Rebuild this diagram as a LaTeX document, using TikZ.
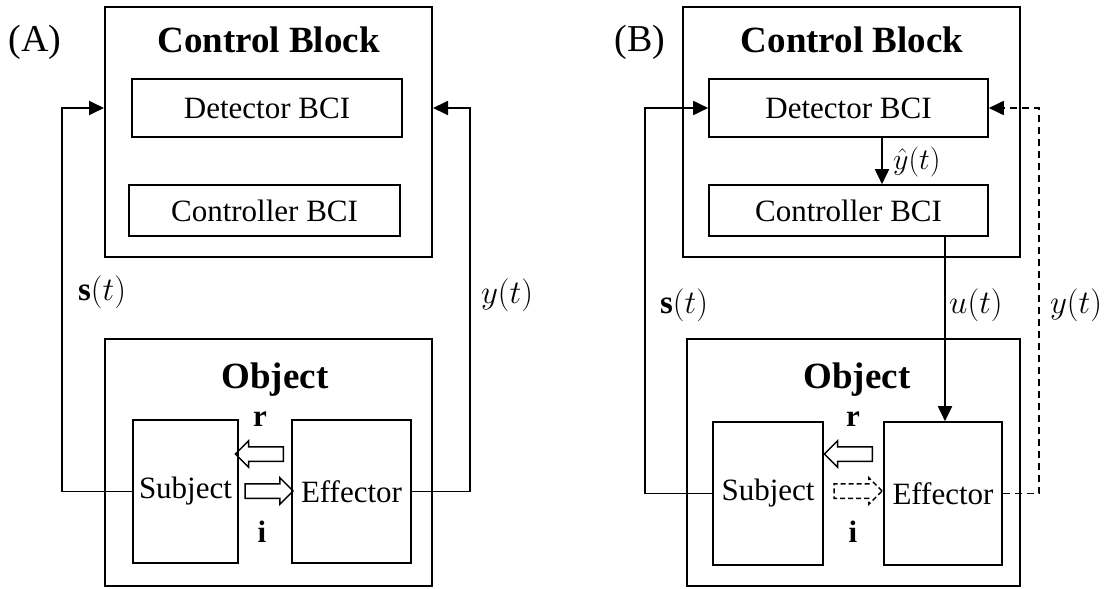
\documentclass[tikz,border=0pt]{standalone}
\usepackage{fix-cm}
\usepackage{fontspec}
\setmainfont{Liberation Serif}
\usetikzlibrary{arrows.meta,shapes.arrows,calc,positioning}

\tikzset{
  blk/.style={draw, line width=2pt, inner sep=0pt},
  sub/.style={draw, line width=1.6pt, inner sep=0pt, font=\fontsize{31}{34}\selectfont},
  ttl/.style={font=\fontsize{37}{40}\selectfont\bfseries},
  sig/.style={font=\fontsize{33}{36}\selectfont},
  pnl/.style={font=\fontsize{38}{40}\selectfont},
  lbl/.style={font=\fontsize{31}{34}\selectfont\bfseries},
  wire/.style={line width=1.8pt},
  tip/.style={-{Triangle[length=15pt,width=14pt]}},
  fat/.style={single arrow, draw, line width=1.5pt, inner xsep=0pt, inner ysep=6.5pt,
    minimum height=48pt, single arrow head extend=6pt}
}

\begin{document}
\begin{tikzpicture}[x=1pt,y=-1pt]
\useasboundingbox (0,0) rectangle (1117,589);

% ---- (A) ----
\node[pnl] (labA) at (35,42) {(A)};
\node[blk, minimum width=327pt, minimum height=250pt] (ctlA) at (268.5,132) {};
\node[ttl] (ctlAt) at (268.5,40) {Control Block};
\node[sub, minimum width=270pt, minimum height=58pt] (detA) at (267,108) {Detector BCI};
\node[sub, minimum width=271pt, minimum height=51pt] (conA) at (264.5,210.5) {Controller BCI};
\node[blk, minimum width=327pt, minimum height=247pt] (objA) at (268.5,462.5) {};
\node[ttl] (objAt) at (275,380) {Object};
\node[sub, minimum width=105pt, minimum height=143pt] (subA) at (185.5,491.5) {Subject};
\node[sub, minimum width=119pt, minimum height=143pt] (effA) at (351.5,491.5) {Effector};
\node[lbl] (rA) at (260,419) {r};
\node[lbl] (iA) at (262,532) {i};
\node[fat, shape border rotate=180] (arA) at (263,454) {};
\node[fat] (aiA) at (265.5,491) {};

\coordinate (lA) at (62,0);
\coordinate (gA) at (470,0);
\draw[wire,tip] (subA.west) -| (lA |- detA.west) -- (detA.west -| ctlA.west);
\draw[wire,tip] (effA.east) -| (gA |- detA.east) -- (detA.east -| ctlA.east);
\node[sig] (sA) at (102,292) {$\mathbf{s}(t)$};
\node[sig] (yA) at (507,295) {$y(t)$};

% ---- (B) ----
\node[pnl] (labB) at (640,42) {(B)};
\node[blk, minimum width=337pt, minimum height=250pt] (ctlB) at (851.5,132) {};
\node[ttl] (ctlBt) at (852,40) {Control Block};
\node[sub, minimum width=279pt, minimum height=58pt] (detB) at (848.5,108) {Detector BCI};
\node[sub, minimum width=279pt, minimum height=51pt] (conB) at (848.5,210.5) {Controller BCI};
\node[blk, minimum width=333pt, minimum height=247pt] (objB) at (853.5,462.5) {};
\node[ttl] (objBt) at (857,380) {Object};
\node[sub, minimum width=110pt, minimum height=143pt] (subB) at (768,493.5) {Subject};
\node[sub, minimum width=118pt, minimum height=143pt] (effB) at (943,493.5) {Effector};
\node[lbl] (rB) at (853,419) {r};
\node[lbl] (iB) at (853,532) {i};
\node[fat, shape border rotate=180] (arB) at (852,454) {};
\node[fat, dashed, dash pattern=on 5pt off 3pt] (aiB) at (854.5,491) {};

\coordinate (lB) at (645,0);
\coordinate (gB) at (1039,0);
\coordinate (hB) at (882,0);
\coordinate (uB) at (945,0);
\draw[wire,tip] (subB.west) -| (lB |- detB.west) -- (detB.west);
\draw[wire,tip,dash pattern=on 7pt off 5pt] (effB.east) -| (gB |- detB.east) -- (detB.east);
\draw[wire,tip] (detB.south -| hB) -- (conB.north -| hB);
\draw[wire,tip] (conB.south -| uB) -- (effB.north -| uB);
\node[sig, font=\fontsize{30}{32}\selectfont, anchor=west, inner sep=0pt] (hyB) at (893,162) {$\hat{y}(t)$};
\node[sig] (sB) at (684,305) {$\mathbf{s}(t)$};
\node[sig, anchor=west, inner sep=0pt] (uBl) at (949,305) {$u(t)$};
\node[sig] (yB) at (1076,305) {$y(t)$};
\end{tikzpicture}
\end{document}
